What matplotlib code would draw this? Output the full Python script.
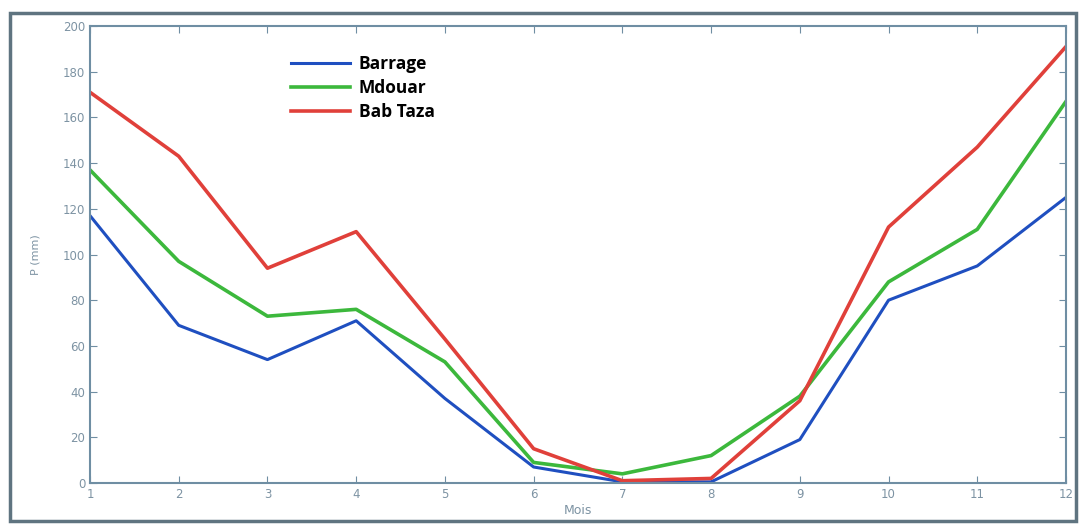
import numpy as np
import matplotlib.pyplot as plt
from matplotlib.patches import Rectangle

mois = np.arange(1, 13)
barrage = [117, 69, 54, 71, 37, 7, 0.5, 0.5, 19, 80, 95, 125]
mdouar = [137, 97, 73, 76, 53, 9, 4, 12, 38, 88, 111, 167]
bab_taza = [171, 143, 94, 110, 63, 15, 1, 2, 36, 112, 147, 191]
y_ticks = np.arange(0, 201, 20)

axis_col = '#6f8ea3'
fig = plt.figure(figsize=(10.79, 5.27), dpi=100)
fig.patches.append(Rectangle((10/1079, 6/527), 1066/1079, 508/527, transform=fig.transFigure,
                             fill=False, edgecolor='#5f7480', linewidth=2.5))
ax = fig.add_axes([90/1079, 44/527, 976/1079, 457/527])

ax.plot(mois, barrage, color='#1f4fc0', lw=2.2, label='Barrage')
ax.plot(mois, mdouar, color='#3cb83c', lw=2.6, label='Mdouar')
ax.plot(mois, bab_taza, color='#e0403a', lw=2.6, label='Bab Taza')

ax.set_xlim(1, 12)
ax.set_ylim(0, 200)
ax.set_xticks(mois)
ax.set_yticks(y_ticks)
ax.tick_params(direction='in', top=True, right=True, colors=axis_col, labelsize=8.5,
               length=5, labelcolor='#7d93a3')
for s in ax.spines.values():
    s.set_color(axis_col)
    s.set_linewidth(1.5)
ax.set_xlabel('Mois', fontsize=9, color='#7d93a3', labelpad=2)
ax.set_ylabel('P (mm)', fontsize=8, color='#7d93a3', labelpad=16)

leg = ax.legend(loc='upper left', bbox_to_anchor=(0.19, 0.97), frameon=False,
                prop={'family': 'Open Sans', 'weight': 'bold', 'size': 12.5},
                handlelength=3.4, labelspacing=0.35, handletextpad=0.5)

fig.savefig('out.png', dpi=100)
